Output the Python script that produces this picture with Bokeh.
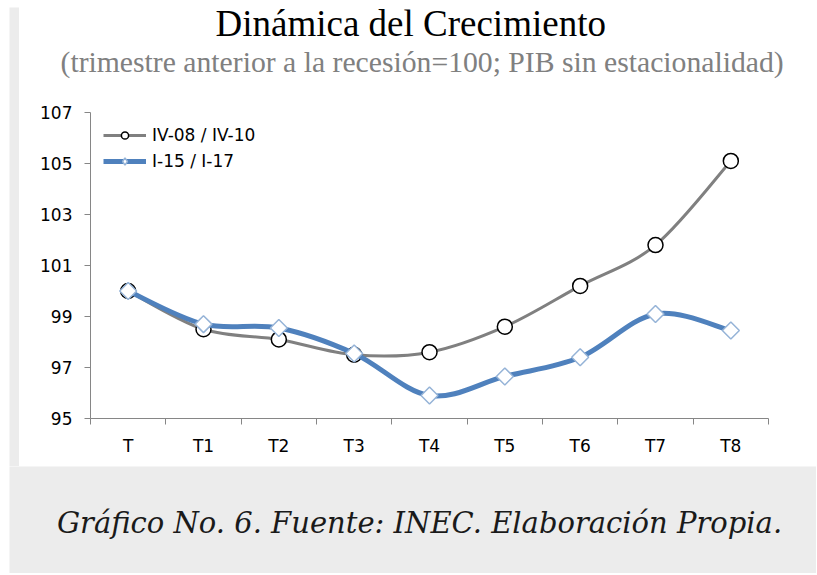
import numpy as np
from bokeh.plotting import figure
from bokeh.layouts import column, row
from bokeh.models import (Label, Legend, LegendItem, FixedTicker, Title,
                          ColumnDataSource, Range1d, Spacer)
from bokeh.embed import file_html
from bokeh.resources import INLINE

# ---------------- data ----------------
categories = ["T", "T1", "T2", "T3", "T4", "T5", "T6", "T7", "T8"]
serie_0810 = [100.0, 98.5, 98.1, 97.5, 97.6, 98.6, 100.2, 101.8, 105.1]
serie_1517 = [100.0, 98.7, 98.55, 97.55, 95.9, 96.65, 97.4, 99.1, 98.45]
series_labels = ["IV-08 / IV-10", "I-15 / I-17"]
y_ticks = [95, 97, 99, 101, 103, 105, 107]
title_text = "Dinámica del Crecimiento"
subtitle_text = "(trimestre anterior a la recesión=100; PIB sin estacionalidad)"
caption_text = "Gráfico No. 6. Fuente: INEC. Elaboración Propia."

# ---------------- styles ----------------
BG = "#ececec"
AXIS = "#868686"
GRAY_LINE = "#808080"
BLUE_LINE = "#4f81bd"
DIAMOND_EDGE = "#95b3d7"
TICK_FONT = "DejaVu Sans"


def smooth_segments(xs, ys, t=1.0 / 6.0):
    """Cubic Bezier segments through the data points (Excel-like smoothing)."""
    x = np.asarray(xs, float)
    y = np.asarray(ys, float)
    n = len(x)
    d = dict(x0=[], y0=[], x1=[], y1=[], cx0=[], cy0=[], cx1=[], cy1=[])
    for i in range(n - 1):
        im, ip2 = max(i - 1, 0), min(i + 2, n - 1)
        d["x0"].append(x[i]); d["y0"].append(y[i])
        d["x1"].append(x[i + 1]); d["y1"].append(y[i + 1])
        d["cx0"].append(x[i] + (x[i + 1] - x[im]) * t)
        d["cy0"].append(y[i] + (y[i + 1] - y[im]) * t)
        d["cx1"].append(x[i + 1] - (x[ip2] - x[i]) * t)
        d["cy1"].append(y[i + 1] - (y[ip2] - y[i]) * t)
    return ColumnDataSource(d)


xs = list(range(len(categories)))

# ---------------- chart (white panel) ----------------
p = figure(width=797, height=466, x_range=Range1d(-0.5, len(categories) - 0.5),
           y_range=Range1d(y_ticks[0], y_ticks[-1]),
           min_border_left=71, min_border_right=48, min_border_top=0,
           min_border_bottom=48, toolbar_location=None, output_backend="svg")
p.grid.visible = False
p.outline_line_color = None
p.border_fill_color = "white"
p.background_fill_color = "white"

# titles: first added sits closest to the frame (a blank one gives the gap)
p.add_layout(Title(text=" ", standoff=22, text_font_size="10px"), "above")
p.add_layout(Title(text=subtitle_text, align="left", offset=-30, standoff=0,
                   text_font="Liberation Serif", text_font_size="29.7px",
                   text_font_style="normal", text_color="#808080"), "above")
p.add_layout(Title(text=title_text, align="left", offset=125, standoff=0,
                   text_font="Liberation Serif", text_font_size="37px",
                   text_font_style="normal", text_color="#000000"), "above")

r_l1 = p.bezier(x0="x0", y0="y0", x1="x1", y1="y1", cx0="cx0", cy0="cy0",
                cx1="cx1", cy1="cy1", source=smooth_segments(xs, serie_0810),
                line_color=GRAY_LINE, line_width=3)
r_m1 = p.scatter(xs, serie_0810, marker="circle", size=15, fill_color="white",
                 line_color="black", line_width=1.5)
r_l2 = p.bezier(x0="x0", y0="y0", x1="x1", y1="y1", cx0="cx0", cy0="cy0",
                cx1="cx1", cy1="cy1", source=smooth_segments(xs, serie_1517),
                line_color=BLUE_LINE, line_width=5)
r_m2 = p.scatter(xs, serie_1517, marker="square", angle=np.pi / 4, size=12,
                 fill_color="white", line_color=DIAMOND_EDGE, line_width=1.5)

# hidden renderers used only for the legend swatches
leg_l1 = p.line(xs, serie_0810, line_color=GRAY_LINE, line_width=3, visible=False)
leg_l2 = p.line(xs, serie_1517, line_color=BLUE_LINE, line_width=5, visible=False)
leg_m2 = p.scatter(xs, serie_1517, marker="diamond", size=12, fill_color="white",
                   line_color=DIAMOND_EDGE, line_width=1.5, visible=False)

legend = Legend(items=[LegendItem(label=series_labels[0], renderers=[leg_l1, r_m1]),
                       LegendItem(label=series_labels[1], renderers=[leg_l2, leg_m2])],
                location="top_left", border_line_color=None, background_fill_alpha=0,
                glyph_width=43, glyph_height=18, label_height=18, spacing=6,
                padding=0, margin=13, label_standoff=6,
                label_text_font=TICK_FONT, label_text_font_size="17px",
                label_text_color="#000000")
p.add_layout(legend)

# x axis: labels at category centres, tick marks between categories
xa = p.xaxis[0]
xa.ticker = FixedTicker(ticks=xs, minor_ticks=[i - 0.5 for i in range(len(categories) + 1)])
xa.major_label_overrides = {i: c for i, c in enumerate(categories)}
xa.major_tick_in = 0
xa.major_tick_out = 0
xa.minor_tick_in = 0
xa.minor_tick_out = 6
xa.minor_tick_line_color = AXIS
xa.axis_line_color = AXIS
xa.major_label_standoff = 11
xa.major_label_text_font = TICK_FONT
xa.major_label_text_font_size = "17px"
xa.major_label_text_color = "#000000"

ya = p.yaxis[0]
ya.ticker = FixedTicker(ticks=y_ticks, minor_ticks=[])
ya.major_tick_in = 0
ya.major_tick_out = 6
ya.major_tick_line_color = AXIS
ya.minor_tick_line_color = None
ya.axis_line_color = AXIS
ya.major_label_standoff = 12
ya.major_label_text_font = TICK_FONT
ya.major_label_text_font_size = "17px"
ya.major_label_text_color = "#000000"

# ---------------- left grey strip ----------------
strip = figure(width=10, height=459, x_axis_location=None, y_axis_location=None,
               min_border=0, toolbar_location=None, output_backend="svg")
strip.grid.visible = False
strip.outline_line_color = None
strip.border_fill_color = BG
strip.background_fill_color = BG

# ---------------- caption ----------------
CW, CH = 807, 107
cap = figure(width=CW, height=CH, x_range=Range1d(0, CW), y_range=Range1d(0, CH),
             x_axis_location=None, y_axis_location=None, min_border=0,
             toolbar_location=None, output_backend="svg")
cap.grid.visible = False
cap.outline_line_color = None
cap.border_fill_color = BG
cap.background_fill_color = BG
cap.add_layout(Label(x=410, y=51, text=caption_text, text_font="DejaVu Serif",
                     text_font_style="italic", text_font_size="29px",
                     text_color="#1a1a1a", text_align="center", text_baseline="middle"))

layout = row(Spacer(width=9, height=573),
             column(row(column(Spacer(width=10, height=7), strip), p), cap))

open("out.html", "w").write(file_html(layout, INLINE))
